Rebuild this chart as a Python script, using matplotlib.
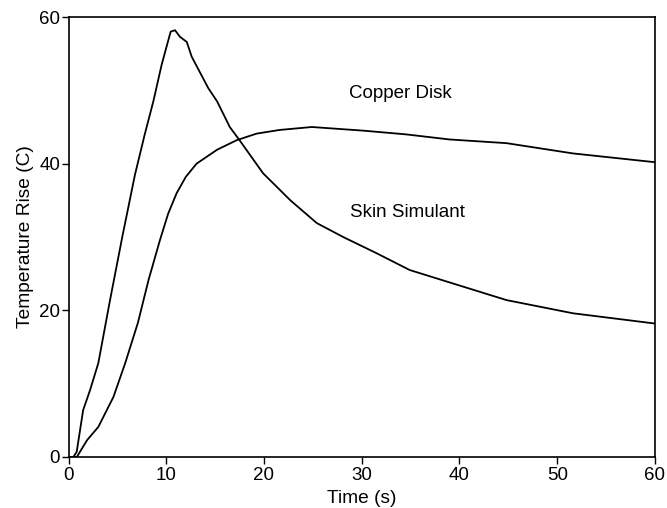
import matplotlib
matplotlib.use("Agg")
import matplotlib.pyplot as plt

# Fast-rising curve
fast_t = [0.0, 0.5, 0.84, 1.5, 2.2, 3.05, 4.25, 5.5, 6.8, 7.8, 8.68, 9.53, 10.45, 10.9, 11.4, 12.1,
          12.6, 14.3, 15.2, 16.5, 17.5, 19.9, 22.7, 25.4, 28.1, 31.5, 34.9, 39.0, 44.8, 51.6, 60.0]
fast_T = [0.0, 0.0, 0.72, 6.4, 9.1, 12.8, 21.4, 30.0, 38.5, 44.0, 48.5, 53.5, 58.0, 58.2, 57.3, 56.6,
          54.6, 50.3, 48.5, 45.0, 43.2, 38.7, 35.0, 31.9, 30.0, 27.8, 25.5, 23.8, 21.4, 19.6, 18.2]

# Slow-rising curve
slow_t = [0.0, 0.85, 1.9, 3.05, 4.6, 5.8, 7.1, 8.2, 9.36, 10.2, 11.07, 12.0, 13.1, 15.2, 17.2, 19.25,
          21.6, 24.9, 30.2, 34.5, 39.0, 44.8, 51.6, 60.0]
slow_T = [0.0, 0.0, 2.3, 4.1, 8.2, 12.8, 18.3, 24.2, 29.6, 33.2, 36.0, 38.2, 40.0, 41.9, 43.2, 44.1,
          44.6, 45.0, 44.5, 44.0, 43.3, 42.8, 41.4, 40.2]

x_ticks = [0, 10, 20, 30, 40, 50, 60]
y_ticks = [0, 20, 40, 60]

plt.rcParams['font.family'] = ['Liberation Sans', 'DejaVu Sans']

fig = plt.figure(figsize=(6.67, 5.08), dpi=100)
ax = fig.add_axes([0.1027, 0.1004, 0.8793, 0.8661])

ax.plot(fast_t, fast_T, color='black', lw=1.3)
ax.plot(slow_t, slow_T, color='black', lw=1.3)

ax.set_xlim(0, 60)
ax.set_ylim(0, 60)
ax.set_xticks(x_ticks)
ax.set_yticks(y_ticks)
ax.tick_params(direction='out', length=5, width=1, labelsize=13.5, pad=1)
ax.tick_params(axis='x', pad=2.5)
for s in ax.spines.values():
    s.set_linewidth(1.2)

ax.set_xlabel('Time (s)', fontsize=13.8, labelpad=4)
ax.set_ylabel('Temperature Rise (C)', fontsize=13.8, labelpad=4)

ax.text(34.0, 49.6, 'Copper Disk', fontsize=13.5, ha='center', va='center')
ax.text(34.7, 33.3, 'Skin Simulant', fontsize=13.5, ha='center', va='center')

fig.savefig('out.png', dpi=100)
